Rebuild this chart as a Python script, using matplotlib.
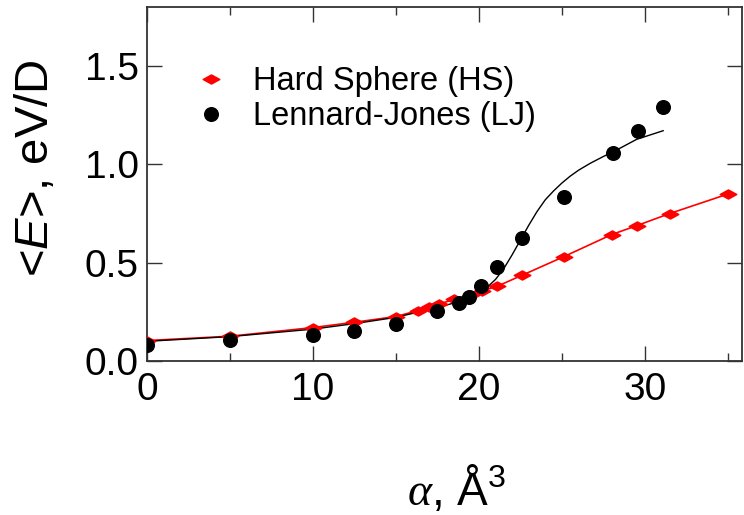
import matplotlib
matplotlib.use('Agg')
import matplotlib.pyplot as plt
import numpy as np
from matplotlib.path import Path

plt.rcParams['font.family'] = ['Liberation Sans', 'DejaVu Sans']
plt.rcParams['mathtext.fontset'] = 'custom'
plt.rcParams['mathtext.rm'] = 'Liberation Sans'
plt.rcParams['mathtext.it'] = 'Liberation Sans:italic'
plt.rcParams['mathtext.sf'] = 'Liberation Serif:italic'

# Hard Sphere (HS) data
hs_alpha = [0, 5, 10, 12.5, 15, 16.3, 17.0, 17.6, 18.5, 19.5, 20.2, 21.1, 22.6, 25.1, 28.0, 29.5, 31.5, 35.0]
hs_energy = [0.104, 0.126, 0.170, 0.197, 0.226, 0.256, 0.274, 0.290, 0.313, 0.335, 0.357, 0.380, 0.436, 0.530, 0.643, 0.688, 0.750, 0.849]

# Lennard-Jones (LJ) data
lj_alpha = [0, 5, 10, 12.5, 15, 17.5, 18.8, 19.4, 20.1, 21.1, 22.6, 25.1, 28.1, 29.6, 31.1]
lj_energy = [0.083, 0.105, 0.131, 0.151, 0.190, 0.252, 0.297, 0.327, 0.379, 0.479, 0.626, 0.834, 1.060, 1.171, 1.294]

# LJ fit curve
lj_fit_alpha = [0, 5, 10, 12.5, 15, 17.5, 18.8, 20.0, 20.5, 21.0, 21.5, 22.0, 22.5, 23.0, 23.5,
                24.0, 24.5, 25.0, 25.5, 26.0, 26.7, 27.5, 28.1, 29.5, 31.1]
lj_fit_energy = [0.100, 0.124, 0.162, 0.190, 0.222, 0.272, 0.302, 0.345, 0.375, 0.415, 0.470, 0.540,
                 0.615, 0.690, 0.760, 0.820, 0.865, 0.905, 0.940, 0.970, 1.005, 1.040, 1.064, 1.127, 1.171]

xticks = [0, 10, 20, 30]
yticks = [0.0, 0.5, 1.0, 1.5]

diamond = Path([(-1, 0), (0, 0.55), (1, 0), (0, -0.55), (-1, 0)],
               [Path.MOVETO, Path.LINETO, Path.LINETO, Path.LINETO, Path.CLOSEPOLY])

fig = plt.figure(figsize=(7.44, 5.15), dpi=100)
ax = fig.add_axes([147/744, 1-361/515, (742-147)/744, (361-7)/515])

ax.plot(hs_alpha, hs_energy, color='red', lw=1.2, zorder=2)
ax.plot(lj_fit_alpha, lj_fit_energy, color='black', lw=1.0, zorder=3)
ax.plot(hs_alpha, hs_energy, ls='none', marker=diamond, ms=12, color='red',
        label='Hard Sphere (HS)', zorder=4)
ax.plot(lj_alpha, lj_energy, ls='none', marker='o', ms=9.8, color='black',
        label='Lennard-Jones (LJ)', zorder=5)

ax.set_xlim(0, 35.85)
ax.set_ylim(0, 1.8)
ax.set_xticks(xticks)
ax.set_xticks([5, 15, 25, 35], minor=True)
ax.set_yticks(yticks)
ax.set_yticklabels(['%.1f' % v for v in yticks])
ax.tick_params(which='both', direction='in', top=True, right=True, labelsize=28,
               width=1.0, color='#333333')
ax.tick_params(which='major', length=11, pad=8)
ax.tick_params(which='minor', length=6)
ax.tick_params(axis='y', pad=6)
for s in ax.spines.values():
    s.set_linewidth(1.3)
    s.set_color('#333333')

ax.set_ylabel(r'<$\mathit{E}$>, eV/D', fontsize=34)
ax.yaxis.set_label_coords(-0.15, 0.544)
ax.set_xlabel(r'$\mathsf{\alpha}$, Å$^\mathrm{3}$', fontsize=33)
ax.xaxis.set_label_coords(0.52, -0.29)

ax.legend(loc='upper left', bbox_to_anchor=(0.058, 0.87), frameon=False, fontsize=23.5,
          handlelength=1.0, handletextpad=0.8, labelspacing=0.12, borderaxespad=0)

fig.savefig('out.png', dpi=100)
